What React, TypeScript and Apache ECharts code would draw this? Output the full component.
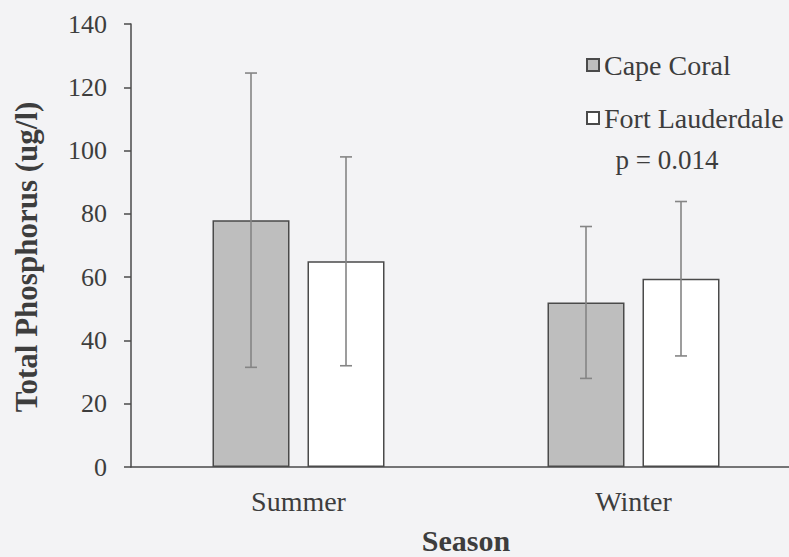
import React, { useEffect, useRef } from "react";
import * as echarts from "echarts";

// Seasonal total phosphorus, mean ± SD
const seasons = ["Summer", "Winter"];
const capeCoralMean = [78, 52];
const capeCoralSD = [46.5, 24];
const fortLauderdaleMean = [65, 59.5];
const fortLauderdaleSD = [33, 24.4];
const yTicks = { min: 0, max: 140, interval: 20 };

const FONT = "Liberation Serif";
const TEXT = "#3d3d3d";
const BAR_W = 77;
const BAR_GAP = 18;

function errorSeries(name: string, means: number[], sds: number[], offset: number) {
  return {
    type: "custom",
    name,
    silent: true,
    z: 5,
    data: means.map((m, i) => [i, m - sds[i], m + sds[i]]),
    renderItem: (params: any, api: any) => {
      const lo = api.coord([api.value(0), api.value(1)]);
      const hi = api.coord([api.value(0), api.value(2)]);
      const x = lo[0] + offset;
      const cap = 6;
      const style = { stroke: "#858585", lineWidth: 1.6 };
      return {
        type: "group",
        children: [
          { type: "line", shape: { x1: x, y1: hi[1], x2: x, y2: lo[1] }, style },
          { type: "line", shape: { x1: x - cap, y1: hi[1], x2: x + cap, y2: hi[1] }, style },
          { type: "line", shape: { x1: x - cap, y1: lo[1], x2: x + cap, y2: lo[1] }, style },
        ],
      };
    },
  };
}

export default function App() {
  const ref = useRef<HTMLDivElement>(null);

  useEffect(() => {
    if (!ref.current) return;
    const chart = echarts.init(ref.current, null, { renderer: "svg" });
    const off = (BAR_W + BAR_GAP) / 2;
    chart.setOption({
      animation: false,
      backgroundColor: "#f3f3f5",
      // the category axis runs a little past the visible right edge
      grid: { left: 131, right: 0, top: 24, bottom: 90, outerBoundsMode: "none", containLabel: false },
      legend: {
        orient: "vertical",
        left: 581,
        top: 46,
        itemWidth: 12,
        itemHeight: 12,
        itemGap: 25,
        icon: "rect",
        textStyle: { fontFamily: FONT, fontSize: 28, color: TEXT },
        data: ["Cape Coral", "Fort Lauderdale"],
      },
      xAxis: {
        type: "category",
        data: seasons,
        axisLine: { show: true, lineStyle: { color: "#4a4a4a", width: 1.5 } },
        axisTick: { show: false },
        axisLabel: { fontFamily: FONT, fontSize: 28, color: TEXT, margin: 20 },
        name: "Season",
        nameLocation: "middle",
        nameGap: 58,
        nameTextStyle: {
          fontFamily: FONT,
          fontSize: 30,
          lineHeight: 30,
          fontWeight: "bold",
          color: TEXT,
        },
      },
      yAxis: {
        type: "value",
        min: yTicks.min,
        max: yTicks.max,
        interval: yTicks.interval,
        axisLine: { show: true, lineStyle: { color: "#4a4a4a", width: 1.5 } },
        axisTick: { show: true, length: 7, lineStyle: { color: "#4a4a4a", width: 1.5 } },
        splitLine: { show: false },
        axisLabel: { fontFamily: FONT, fontSize: 26, color: TEXT, margin: 24 },
      },
      graphic: [
        {
          type: "text",
          x: 26,
          y: 257,
          rotation: Math.PI / 2,
          style: {
            text: "Total Phosphorus (ug/l)",
            font: `bold 31px ${FONT}`,
            fill: TEXT,
            align: "center",
            verticalAlign: "middle",
          },
        },
        {
          type: "text",
          x: 667,
          y: 160,
          style: {
            text: "p = 0.014",
            font: `27px ${FONT}`,
            fill: TEXT,
            align: "center",
            verticalAlign: "middle",
          },
        },
      ],
      series: [
        {
          type: "bar",
          name: "Cape Coral",
          data: capeCoralMean,
          barWidth: BAR_W,
          barGap: `${(BAR_GAP / BAR_W) * 100}%`,
          itemStyle: { color: "#bebebe", borderColor: "#4a4a4a", borderWidth: 1.5 },
        },
        {
          type: "bar",
          name: "Fort Lauderdale",
          data: fortLauderdaleMean,
          barWidth: BAR_W,
          itemStyle: { color: "#ffffff", borderColor: "#4a4a4a", borderWidth: 1.5 },
        },
        errorSeries("cc-err", capeCoralMean, capeCoralSD, -off),
        errorSeries("fl-err", fortLauderdaleMean, fortLauderdaleSD, off),
      ],
    });
    return () => chart.dispose();
  }, []);

  return (
    <div
      style={{
        position: "fixed",
        left: 0,
        top: 0,
        width: 789,
        height: 557,
        overflow: "hidden",
        background: "#f3f3f5",
      }}
    >
      <div ref={ref} style={{ width: 801, height: 557 }} />
    </div>
  );
}
